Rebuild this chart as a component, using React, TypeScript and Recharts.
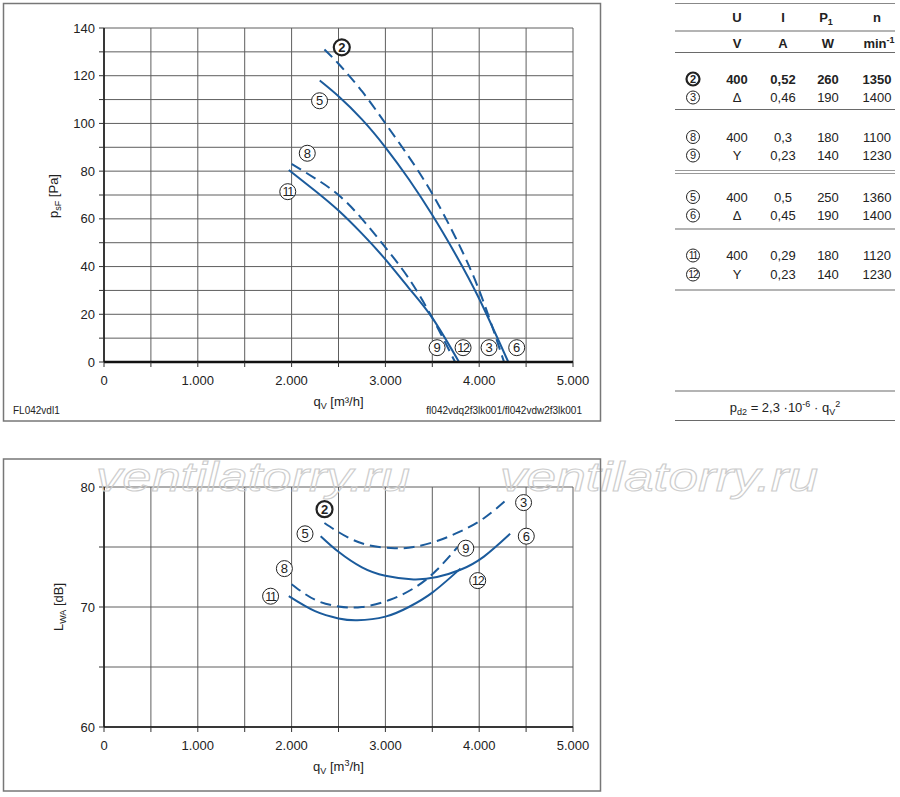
import React from 'react';
import { ComposedChart, Line, XAxis, YAxis, CartesianGrid, ReferenceDot } from 'recharts';

const FONT = '"Liberation Sans", Arial, Helvetica, sans-serif';
const BLUE = '#1b5b9c';
const INK = '#222';

// ---- axes ----
const flowTicks = [0, 500, 1000, 1500, 2000, 2500, 3000, 3500, 4000, 4500, 5000];
const pressureTicks = [0, 10, 20, 30, 40, 50, 60, 70, 80, 90, 100, 110, 120, 130, 140];
const soundTicks = [60, 65, 70, 75, 80];

// ---- pressure curves p_sF [Pa] vs q_V [m3/h] ----
const pressure2 = [
  { q: 2350, v: 131 }, { q: 2500, v: 125 }, { q: 2750, v: 113.5 }, { q: 3000, v: 100 },
  { q: 3250, v: 86 }, { q: 3500, v: 70.5 }, { q: 3750, v: 52 }, { q: 4000, v: 30 }, { q: 4265, v: 0 },
];
const pressure5 = [
  { q: 2300, v: 118 }, { q: 2500, v: 111.4 }, { q: 2750, v: 101.7 }, { q: 3000, v: 90 },
  { q: 3250, v: 76.6 }, { q: 3500, v: 61.6 }, { q: 3750, v: 45 }, { q: 4000, v: 26.5 }, { q: 4310, v: 0 },
];
const pressure8 = [
  { q: 2000, v: 83 }, { q: 2250, v: 77 }, { q: 2500, v: 70 }, { q: 2750, v: 60 },
  { q: 3000, v: 48 }, { q: 3250, v: 35 }, { q: 3500, v: 18.5 }, { q: 3743, v: 0 },
];
const pressure11 = [
  { q: 1970, v: 80.5 }, { q: 2250, v: 71.8 }, { q: 2500, v: 63.5 }, { q: 2750, v: 53.8 },
  { q: 3000, v: 43 }, { q: 3250, v: 31 }, { q: 3500, v: 18.5 }, { q: 3785, v: 0 },
];

// ---- sound curves L_WA [dB] vs q_V [m3/h] ----
const sound2 = [
  { q: 2350, v: 77.0 }, { q: 2600, v: 75.8 }, { q: 2850, v: 75.1 }, { q: 3100, v: 74.9 },
  { q: 3300, v: 75.0 }, { q: 3550, v: 75.5 }, { q: 3800, v: 76.3 }, { q: 4050, v: 77.4 }, { q: 4300, v: 79.0 },
];
const sound5 = [
  { q: 2310, v: 75.9 }, { q: 2500, v: 74.6 }, { q: 2750, v: 73.3 }, { q: 3000, v: 72.6 },
  { q: 3300, v: 72.3 }, { q: 3550, v: 72.5 }, { q: 3800, v: 73.1 }, { q: 4050, v: 74.2 }, { q: 4330, v: 76.1 },
];
const sound8 = [
  { q: 2000, v: 71.9 }, { q: 2250, v: 70.6 }, { q: 2500, v: 70.05 }, { q: 2750, v: 70.0 },
  { q: 3050, v: 70.6 }, { q: 3330, v: 71.7 }, { q: 3550, v: 73.1 }, { q: 3770, v: 75.0 },
];
const sound11 = [
  { q: 1970, v: 70.9 }, { q: 2250, v: 69.65 }, { q: 2500, v: 69.05 }, { q: 2700, v: 68.9 },
  { q: 3000, v: 69.2 }, { q: 3250, v: 70.0 }, { q: 3500, v: 71.2 }, { q: 3800, v: 73.2 },
];

// ---- curve tags (in chart units) ----
const pressureTags = [
  { tag: '2', q: 2535, v: 131.9, bold: true },
  { tag: '5', q: 2298, v: 109.5 },
  { tag: '8', q: 2167, v: 87.5 },
  { tag: '11', q: 1959, v: 71.4 },
  { tag: '9', q: 3551, v: 6 },
  { tag: '12', q: 3828, v: 6 },
  { tag: '3', q: 4105, v: 6 },
  { tag: '6', q: 4400, v: 6 },
];
const soundTags = [
  { tag: '2', q: 2351, v: 78.15, bold: true },
  { tag: '5', q: 2143, v: 76.1 },
  { tag: '8', q: 1923, v: 73.2 },
  { tag: '11', q: 1776, v: 70.9 },
  { tag: '3', q: 4473, v: 78.7 },
  { tag: '6', q: 4502, v: 75.9 },
  { tag: '9', q: 3857, v: 74.9 },
  { tag: '12', q: 3984, v: 72.2 },
];

// ---- table ----
const tableRows = [
  { tag: '2', u: '400', i: '0,52', p: '260', n: '1350', bold: true },
  { tag: '3', u: 'Δ', i: '0,46', p: '190', n: '1400' },
  { tag: '8', u: '400', i: '0,3', p: '180', n: '1100' },
  { tag: '9', u: 'Y', i: '0,23', p: '140', n: '1230' },
  { tag: '5', u: '400', i: '0,5', p: '250', n: '1360' },
  { tag: '6', u: 'Δ', i: '0,45', p: '190', n: '1400' },
  { tag: '11', u: '400', i: '0,29', p: '180', n: '1120' },
  { tag: '12', u: 'Y', i: '0,23', p: '140', n: '1230' },
];
const rowY = [79, 97.5, 137, 155.5, 197, 215.5, 255.5, 274.5];
const colX = { tag: 693, u: 737, i: 783, p: 828, n: 877 };

const fmtFlow = (v: number) => (v === 0 ? '0' : v % 1000 === 0 ? `${v / 1000}.000` : '');
const fmtPressure = (v: number) => (v % 20 === 0 ? String(v) : '');
const fmtSound = (v: number) => (v % 10 === 0 ? String(v) : '');

const tickStyle = { fill: INK, fontSize: 13, fontFamily: FONT };

const CircleTag = ({ cx, cy, text, bold, r = 8, fs = 13 }: any) => (
  <g>
    <circle cx={cx} cy={cy} r={r} fill="#fff" stroke={INK} strokeWidth={bold ? 2.2 : 1} />
    <text
      x={cx}
      y={cy}
      dy="0.36em"
      textAnchor="middle"
      fontSize={text.length > 1 ? fs - 0.5 : fs}
      letterSpacing={text.length > 1 ? -1.2 : 0}
      fontWeight={bold ? 'bold' : 'normal'}
      fill={INK}
      fontFamily={FONT}
    >
      {text}
    </text>
  </g>
);

const renderTags = (tags: any[]) =>
  tags.map((t) => (
    <ReferenceDot
      key={t.tag}
      x={t.q}
      y={t.v}
      r={8}
      ifOverflow="visible"
      shape={(p: any) => <CircleTag cx={p.cx} cy={p.cy} text={t.tag} bold={t.bold} />}
    />
  ));

const curve = (data: any[], dashed: boolean, key: string) => (
  <Line
    key={key}
    data={data}
    dataKey="v"
    type="natural"
    stroke={BLUE}
    strokeWidth={2}
    strokeDasharray={dashed ? '11 6' : undefined}
    dot={false}
    activeDot={false}
    isAnimationActive={false}
  />
);

const PressureChart = () => (
  <ComposedChart width={600} height={420} margin={{ top: 28, right: 27, bottom: 28, left: 44 }}>
    <CartesianGrid stroke="#5e5e5e" strokeWidth={1} />
    <XAxis
      type="number"
      dataKey="q"
      domain={[0, 5000]}
      ticks={flowTicks}
      interval={0}
      tickFormatter={fmtFlow}
      tickSize={5}
      tickMargin={9}
      height={30}
      axisLine={{ stroke: '#111', strokeWidth: 2.5 }}
      tickLine={{ stroke: '#333' }}
      tick={tickStyle}
      allowDataOverflow
    />
    <YAxis
      type="number"
      domain={[0, 140]}
      ticks={pressureTicks}
      interval={0}
      tickFormatter={fmtPressure}
      tickSize={5}
      tickMargin={4}
      width={60}
      axisLine={{ stroke: '#111', strokeWidth: 1.5 }}
      tickLine={{ stroke: '#333' }}
      tick={tickStyle}
      allowDataOverflow
    />
    {curve(pressure2, true, 'p2')}
    {curve(pressure5, false, 'p5')}
    {curve(pressure8, true, 'p8')}
    {curve(pressure11, false, 'p11')}
    {renderTags(pressureTags)}
  </ComposedChart>
);

const SoundChart = () => (
  <ComposedChart width={600} height={357} margin={{ top: 47, right: 27, bottom: 40, left: 44 }}>
    <CartesianGrid stroke="#5e5e5e" strokeWidth={1} />
    <XAxis
      type="number"
      dataKey="q"
      domain={[0, 5000]}
      ticks={flowTicks}
      interval={0}
      tickFormatter={fmtFlow}
      tickSize={5}
      tickMargin={9}
      height={30}
      axisLine={{ stroke: '#111', strokeWidth: 1.5 }}
      tickLine={{ stroke: '#333' }}
      tick={tickStyle}
      allowDataOverflow
    />
    <YAxis
      type="number"
      domain={[60, 80]}
      ticks={soundTicks}
      interval={0}
      tickFormatter={fmtSound}
      tickSize={5}
      tickMargin={4}
      width={60}
      axisLine={{ stroke: '#111', strokeWidth: 1.5 }}
      tickLine={{ stroke: '#333' }}
      tick={tickStyle}
      allowDataOverflow
    />
    {curve(sound2, true, 's2')}
    {curve(sound5, false, 's5')}
    {curve(sound8, true, 's8')}
    {curve(sound11, false, 's11')}
    {renderTags(soundTags)}
  </ComposedChart>
);

const Overlay = () => {
  const t = { fontFamily: FONT, fill: INK } as any;
  const line = (y: number, color = '#6a6a6a', w = 1.2) => (
    <line x1={675} x2={895} y1={y} y2={y} stroke={color} strokeWidth={w} />
  );
  return (
    <svg width={900} height={797} style={{ position: 'absolute', left: 0, top: 0, pointerEvents: 'none' }}>
      {/* watermark */}
      <g fontFamily={FONT} fontStyle="italic" fontSize={41} fill="#fff" fillOpacity={0} stroke="#cdcdcd" strokeWidth={1}>
        <text x={96} y={491} textLength={314} lengthAdjust="spacingAndGlyphs">ventilatorry.ru</text>
        <text x={500} y={491} textLength={318} lengthAdjust="spacingAndGlyphs">ventilatorry.ru</text>
      </g>

      {/* frames */}
      <rect x={3.5} y={3.5} width={597} height={417.5} fill="none" stroke="#777" strokeWidth={1.5} />
      <rect x={3.5} y={459} width={597} height={332} fill="none" stroke="#777" strokeWidth={1.5} />

      {/* axis titles - pressure chart */}
      <text {...t} fontSize={13} x={338.5} y={406} textAnchor="middle">
        q<tspan dy={3} fontSize={9}>V</tspan>
        <tspan dy={-3}> [m³/h]</tspan>
      </text>
      <text {...t} fontSize={13} transform="translate(58,196) rotate(-90)" textAnchor="middle">
        p<tspan dy={3} fontSize={9}>sF</tspan>
        <tspan dy={-3}> [Pa]</tspan>
      </text>
      <text {...t} fontSize={10} x={13} y={414}>FL042vdl1</text>
      <text {...t} fontSize={10} x={582} y={414} textAnchor="end">fl042vdq2f3lk001/fl042vdw2f3lk001</text>

      {/* axis titles - sound chart */}
      <text {...t} fontSize={13} x={338.5} y={771} textAnchor="middle">
        q<tspan dy={3} fontSize={9}>V</tspan>
        <tspan dy={-3}> [m</tspan>
        <tspan dy={-5} fontSize={9}>3</tspan>
        <tspan dy={5}>/h]</tspan>
      </text>
      <text {...t} fontSize={13} transform="translate(63,607) rotate(-90)" textAnchor="middle">
        L<tspan dy={3} fontSize={9}>WA</tspan>
        <tspan dy={-3}> [dB]</tspan>
      </text>

      {/* table */}
      {line(3.5, '#888')}
      <g {...t} fontSize={13} fontWeight="bold" textAnchor="middle">
        <text x={colX.u} y={21.5}>U</text>
        <text x={colX.i} y={21.5}>I</text>
        <text x={colX.p - 2} y={21.5}>
          P<tspan dy={3} fontSize={9}>1</tspan>
        </text>
        <text x={colX.n} y={21.5}>n</text>
        <text x={colX.u} y={48}>V</text>
        <text x={colX.i} y={48}>A</text>
        <text x={colX.p} y={48}>W</text>
        <text x={colX.n + 2} y={48}>
          min<tspan dy={-5} fontSize={9}>-1</tspan>
        </text>
      </g>
      {line(31)}
      {line(52.5)}
      {tableRows.map((r, k) => {
        const y = rowY[k] + 4.6;
        return (
          <g key={r.tag} {...t} fontSize={13} fontWeight={r.bold ? 'bold' : 'normal'} textAnchor="middle">
            <CircleTag cx={colX.tag} cy={rowY[k]} text={r.tag} bold={r.bold} r={6.5} fs={11} />
            <text x={colX.u} y={y}>{r.u}</text>
            <text x={colX.i} y={y}>{r.i}</text>
            <text x={colX.p} y={y}>{r.p}</text>
            <text x={colX.n} y={y}>{r.n}</text>
          </g>
        );
      })}
      {line(109.5)}
      {line(170.5, '#999')}
      {line(173.5, '#999')}
      {line(229)}
      {line(290)}

      {/* formula */}
      {line(391)}
      <text {...t} fontSize={13} x={785} y={412} textAnchor="middle">
        p<tspan dy={3} fontSize={9}>d2</tspan>
        <tspan dy={-3}> = 2,3 ·10</tspan>
        <tspan dy={-5} fontSize={9}>-6</tspan>
        <tspan dy={5}> · q</tspan>
        <tspan dy={3} fontSize={9}>V</tspan>
        <tspan dy={-8} fontSize={9}>2</tspan>
      </text>
      {line(420.5)}
    </svg>
  );
};

export default function App() {
  return (
    <div style={{ position: 'absolute', left: 0, top: 0, width: 900, height: 797, background: '#fff', fontFamily: FONT }}>
      <div style={{ position: 'absolute', left: 0, top: 0 }}>
        <PressureChart />
      </div>
      <div style={{ position: 'absolute', left: 0, top: 440 }}>
        <SoundChart />
      </div>
      <Overlay />
    </div>
  );
}
